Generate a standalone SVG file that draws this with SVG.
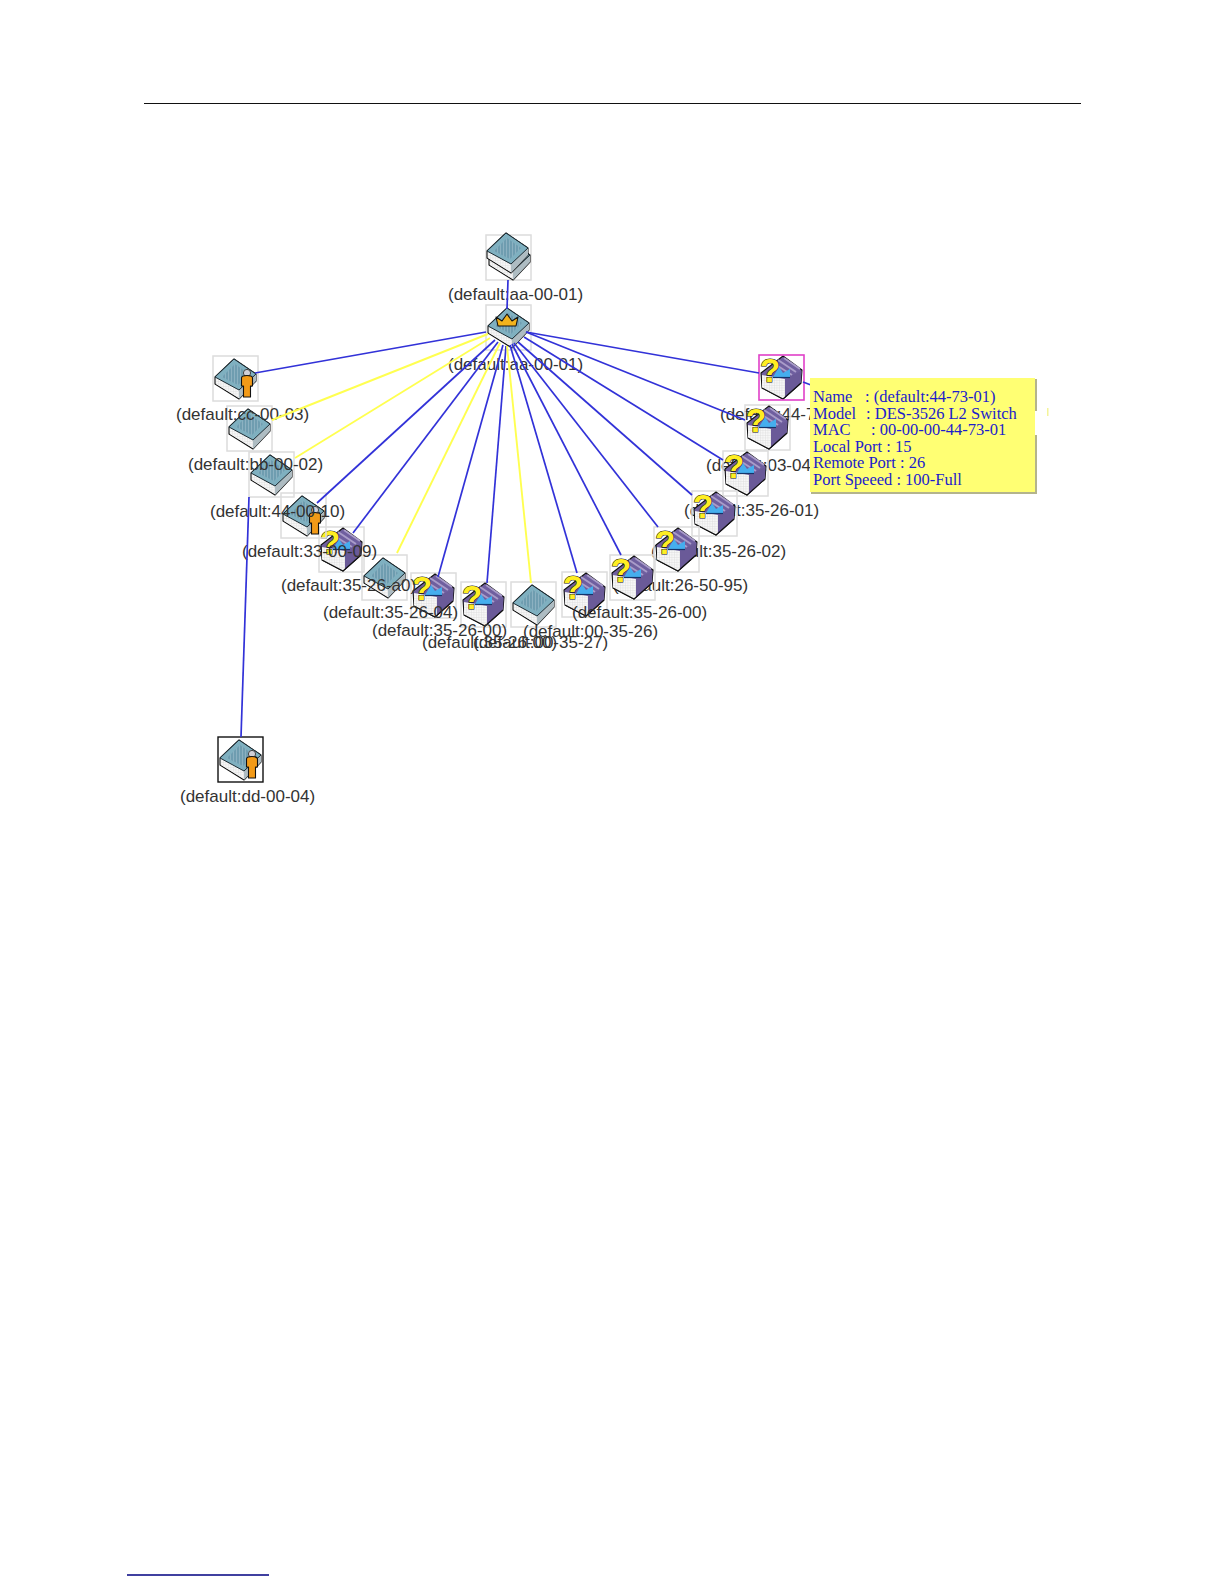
<svg xmlns="http://www.w3.org/2000/svg" xmlns:xlink="http://www.w3.org/1999/xlink" width="1224" height="1584" viewBox="0 0 1224 1584">
<style>
.box{fill:none;stroke:#dcdcdc;stroke-width:1.5}
.lbl{font-family:"Liberation Sans",Arial,sans-serif;font-size:17px;fill:#333}
.b{stroke:#3232d8;stroke-width:1.7;fill:none}
.y{stroke:#ffff50;stroke-width:1.9;fill:none}
.tip{font-family:"Liberation Serif","Times New Roman",serif;font-size:16.5px;fill:#1c1ccc}
.o{stroke:#111;stroke-width:1.1;stroke-linejoin:round}
</style>
<defs>
<pattern id="hatch" width="3" height="3" patternUnits="userSpaceOnUse"><rect width="3" height="3" fill="#6f9db0"/><path d="M0 0V3" stroke="#a9c6d2" stroke-width="1"/></pattern>
<pattern id="grid" width="2.5" height="2.5" patternUnits="userSpaceOnUse"><rect width="2.5" height="2.5" fill="#f7f7f7"/><path d="M0 0H2.5M0 0V2.5" stroke="#d2d2d2" stroke-width=".6"/></pattern>
<g id="sw">
<polygon class="o" points="2,21 21,3 43,18 43,25 26,43 2,28" fill="#f0f3f4"/>
<polygon points="26,34 43,18 43,25 26,43" fill="#aebcc2"/>
<polygon points="3,22 26,34 26,42 3,28" fill="url(#grid)"/>
<polygon points="2,21 21,3 43,18 26,34" fill="#7fb0c0" stroke="#1b2b33" stroke-width="1" stroke-linejoin="round"/>
<polygon points="9,21 22,8 36,18 25,29" fill="url(#hatch)"/>
</g>
<g id="q">
<polygon class="o" points="2,18 24,1 43,15 42,28 24,44 3,33" fill="#6f5f9f"/>
<path d="M14 8 33 20M19 5 37 17M25 3 41 14" stroke="#a99cc9" stroke-width="2"/>
<polygon points="26,24 42.500,16 42,28 26,43" fill="#6a5a98"/>
<polygon points="3,20 15,22 26,24 26,43 24,44 3,33" fill="url(#grid)"/>
<path d="M3 33 24 44 42 28" fill="none" stroke="#111" stroke-width="1.1"/>
<polygon points="14,22 20,12 24,18 31,14 31,22" fill="#45aeee"/>
<path d="M14 22.500H31" stroke="#14346a" stroke-width="1.200"/>
<text x="1" y="27" font-family="Liberation Sans,Arial,sans-serif" font-weight="700" font-size="33" fill="#ffee22" stroke="#111" stroke-width="1.100" paint-order="stroke">?</text>
</g>
<g id="man">
<circle cx="34" cy="17" r="3.600" fill="#d0d0d8" stroke="#444"/>
<path class="o" d="M28.500 22q0-2.500 5.500-2.500t5.500 2.500v8h-2v11h-7v-11h-2z" fill="#f29a18"/>
</g>
</defs>

<rect width="1224" height="1584" fill="#fff"/>
<path d="M144 103.500H1081" stroke="#111" stroke-width="1"/>
<path d="M127 1575H269" stroke="#000080" stroke-width="1.5"/>

<g id="nodes">
<g id="node-top" transform="translate(486 235)"><rect class="box" width="45" height="45"/><use href="#sw" x="1" y="2"/><use href="#sw" x="-1" y="-5"/><text class="lbl" x="-38" y="65">(default:aa-00-01)</text></g>
<g id="node-crown" transform="translate(486 305)"><rect class="box" width="45" height="45"/><use href="#sw"/><polygon class="o" points="10,12 16,16 21,9 26,16 32,12 30,21 12,21" fill="#f2b21c"/><text class="lbl" x="-38" y="65">(default:aa-00-01)</text></g>
<g id="node-00-27" transform="translate(511 582)"><rect class="box" width="45" height="45"/><use href="#sw"/><text class="lbl" x="-38" y="66">(default:00-35-27)</text></g>
<g id="node-35-00b" transform="translate(461 582)"><rect class="box" width="45" height="45"/><use href="#q"/><text class="lbl" x="-39" y="66">(default:35-26-00)</text></g>
<g id="node-35-00a" transform="translate(411 573)"><rect class="box" width="45" height="45"/><use href="#q"/><text class="lbl" x="-39" y="63">(default:35-26-00)</text></g>
<g id="node-35-04" transform="translate(362 555)"><rect class="box" width="45" height="45"/><use href="#sw"/><text class="lbl" x="-39" y="63">(default:35-26-04)</text></g>
<g id="node-35-a0" transform="translate(319 527)"><rect class="box" width="45" height="45"/><use href="#q"/><text class="lbl" x="-38" y="64">(default:35-26-a0)</text></g>
<g id="node-33" transform="translate(281 493)"><rect class="box" width="45" height="45"/><use href="#sw"/><use href="#man"/><text class="lbl" x="-39" y="64">(default:33-00-09)</text></g>
<g id="node-44-10" transform="translate(249 452)"><rect class="box" width="45" height="45"/><use href="#sw"/><text class="lbl" x="-39" y="65">(default:44-00-10)</text></g>
<g id="node-bb" transform="translate(227 406)"><rect class="box" width="45" height="45"/><use href="#sw"/><text class="lbl" x="-39" y="64">(default:bb-00-02)</text></g>
<g id="node-cc" transform="translate(213 356)"><rect class="box" width="45" height="45"/><use href="#sw"/><use href="#man"/><text class="lbl" x="-37" y="64">(default:cc-00-03)</text></g>
<g id="node-pink" transform="translate(759 355)"><text class="lbl" x="-39" y="65">(default:44-73-01)</text><use href="#q"/><rect width="45" height="45" fill="none" stroke="#e040c8" stroke-width="1.600"/></g>
<g id="node-03-04" transform="translate(745 405)"><text class="lbl" x="-39" y="66">(default:03-04</text><rect class="box" width="45" height="45"/><use href="#q"/></g>
<g id="node-35-01" transform="translate(723 451)"><text class="lbl" x="-39" y="65">(default:35-26-01)</text><rect class="box" width="45" height="45"/><use href="#q"/></g>
<g id="node-35-02" transform="translate(692 491)"><text class="lbl" x="-41" y="66">(default:35-26-02)</text><rect class="box" width="45" height="45"/><use href="#q"/></g>
<g id="node-26-50" transform="translate(654 527)"><text class="lbl" x="-41" y="64">(default:26-50-95)</text><rect class="box" width="45" height="45"/><use href="#q"/></g>
<g id="node-00-26" transform="translate(562 572)"><rect class="box" width="45" height="45"/><use href="#q"/><text class="lbl" x="-39" y="65">(default:00-35-26)</text></g>
<g id="node-35-00c" transform="translate(610 555)"><rect class="box" width="45" height="45"/><use href="#q"/><text class="lbl" x="-38" y="63">(default:35-26-00)</text></g>
<g id="node-dd" transform="translate(218 737)"><use href="#sw"/><use href="#man"/><rect width="45" height="45" fill="none" stroke="#111" stroke-width="1.400"/><text class="lbl" x="-38" y="65">(default:dd-00-04)</text></g>
</g>

<g id="connectors">
<path class="b" d="M508 280 507 309"/>
<path class="b" d="M486 332 255 373"/>
<path class="y" d="M488 334 272 420"/>
<path class="y" d="M490 338 295 458"/>
<path class="b" d="M495 340 317 503"/>
<path class="b" d="M498 342 353 533"/>
<path class="y" d="M500 343 397 553"/>
<path class="b" d="M503 345 438 577"/>
<path class="b" d="M506 346 487 583"/>
<path class="y" d="M507 346 531 583"/>
<path class="b" d="M510 345 577 573"/>
<path class="b" d="M512 344 621 555"/>
<path class="b" d="M514 343 658 527"/>
<path class="b" d="M518 342 692 495"/>
<path class="b" d="M524 337 723 460"/>
<path class="b" d="M526 332 745 420"/>
<path class="b" d="M526 332 759 373"/>
<path class="b" d="M803 382 811 385"/>
<path class="b" d="M249 497 241 737"/>
</g>

<g id="tooltip">
<rect x="811" y="379" width="226" height="115" fill="#b4b48c"/>
<rect x="810" y="378" width="225" height="114" fill="#ffff73"/>
<rect x="1035" y="411" width="6" height="24" fill="#fff"/>
<rect x="1047" y="408" width="1.500" height="8" fill="#f4f49a"/>
<text class="tip" y="402"><tspan x="813">Name</tspan><tspan x="865">: (default:44-73-01)</tspan></text>
<text class="tip" y="419"><tspan x="813">Model</tspan><tspan x="866">: DES-3526 L2 Switch</tspan></text>
<text class="tip" y="435"><tspan x="813">MAC</tspan><tspan x="871">: 00-00-00-44-73-01</tspan></text>
<text class="tip" y="452" x="813">Local Port : 15</text>
<text class="tip" y="468" x="813">Remote Port : 26</text>
<text class="tip" y="485" x="813">Port Speeed : 100-Full</text>
</g>
</svg>
